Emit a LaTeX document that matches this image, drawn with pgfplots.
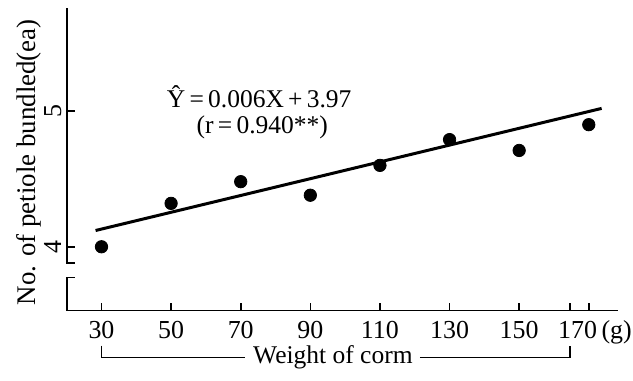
\documentclass[border=0pt]{standalone}
\usepackage{fontspec}
\setmainfont{Liberation Serif}
\usepackage{pgfplots}
\pgfplotsset{compat=1.18}
\begin{document}
\begin{tikzpicture}
\begin{axis}[
  scale only axis,
  width=275.7bp, height=151.3bp,
  xmin=20, xmax=178.4, ymin=3.53, ymax=5.76,
  axis x line=bottom, axis y line=left,
  axis line style={-, line width=0.9bp},
  y axis line style={draw=none},
  clip=false,
  tick align=inside,
  tick style={black, line width=0.8bp},
  major tick length=4bp,
  xtick={30,50,70,90,110,130,150,170},
  xticklabels={30,50,70,90,110,130,150,{}},
  extra x ticks={164.6},
  extra x tick labels={},
  ytick={4,5},
  /pgf/number format/assume math mode=true,
  tick label style={font=\fontsize{13}{15}\selectfont},
  xticklabel style={anchor=base, inner sep=0pt, yshift=-13.8bp},
  yticklabel style={xshift=-2.8bp, rotate=90, anchor=base, inner sep=0pt},
  ylabel={No. of petiole bundled(ea)},
  ylabel style={at={(axis description cs:-0.068,0.49)}, anchor=center, font=\fontsize{13.5}{16}\selectfont},
]
% broken y axis
\draw[line width=0.9bp] ([xshift=4bp]axis cs:20,3.88) -- (axis cs:20,3.88) -- (axis cs:20,5.76);
\draw[line width=0.9bp] ([xshift=4bp]axis cs:20,3.773) -- (axis cs:20,3.773) -- (axis cs:20,3.53);
% regression line
\addplot[black, line width=1.5bp] coordinates {(28.3,4.12) (173.7,5.02)};
% data
\addplot[only marks, mark=*, mark size=3.1bp, black] coordinates {
(30,4.00) (50,4.32) (70,4.48) (90,4.38) (110,4.60) (130,4.79) (150,4.71) (170,4.90)};
% equation
\node[anchor=base, font=\fontsize{12.8}{15}\selectfont] at (axis cs:75.3,5.03) {Ŷ\,=\,0.006X\,+\,3.97};
\node[anchor=base, font=\fontsize{12.8}{15}\selectfont] at (axis cs:76.2,4.838) {(r\,=\,0.940**)};
% x label pieces
\node[anchor=base, font=\fontsize{13}{15}\selectfont, inner sep=0pt] at ([yshift=-13.8bp]axis cs:166.8,3.53) {170};
\node[anchor=base, font=\fontsize{13}{15}\selectfont, inner sep=0pt] at ([yshift=-13.8bp]axis cs:178.0,3.53) {(g)};
\node[anchor=base, font=\fontsize{12.8}{15}\selectfont, inner sep=0pt] at ([yshift=-26.5bp]axis cs:96.5,3.53) {Weight of corm};
\draw[line width=0.7bp] ([yshift=-17.5bp]axis cs:30,3.53) -- ([yshift=-23.6bp]axis cs:30,3.53) -- ([yshift=-23.6bp]axis cs:71.2,3.53);
\draw[line width=0.7bp] ([yshift=-23.6bp]axis cs:121.5,3.53) -- ([yshift=-23.6bp]axis cs:164.6,3.53) -- ([yshift=-17.5bp]axis cs:164.6,3.53);
\end{axis}
\pgfresetboundingbox
\path ([xshift=-33.35bp,yshift=-35.15bp]current axis.south west) rectangle ([xshift=7.5bp,yshift=4bp]current axis.north east);
\end{tikzpicture}
\end{document}
